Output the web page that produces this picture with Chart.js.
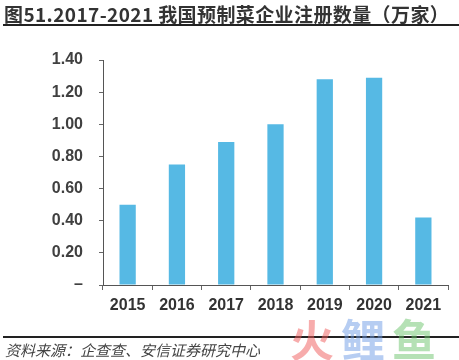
<!DOCTYPE html>
<html>
<head>
<meta charset="utf-8">
<script src="https://cdn.jsdelivr.net/npm/chart.js@4"></script>
<style>
  html, body { margin: 0; padding: 0; background: #fff; }
  #wrap { position: relative; width: 459px; height: 360px; overflow: hidden; }
  #title { position: absolute; left: 4px; top: 0px; font: bold 19px "Noto Sans CJK SC", sans-serif; color: #333; white-space: nowrap; letter-spacing: 0.4px; }
  .rule { position: absolute; left: 3px; width: 456px; height: 2px; background: #222; }
  #source { position: absolute; left: 5px; top: 339px; font: italic 15px "Noto Sans CJK SC", sans-serif; color: #444; white-space: nowrap; }
  #mark { position: absolute; left: 290px; top: 306px; font: bold 44px "Noto Sans CJK SC", sans-serif; opacity: 0.5; white-space: nowrap; letter-spacing: 7px; }
  canvas { position: absolute; left: 0; top: 0; }
</style>
</head>
<body>
<div id="wrap">
  <canvas id="chart" width="459" height="360"></canvas>
  <div id="title">图51.2017-2021 我国预制菜企业注册数量（万家）</div>
  <div class="rule" style="top:24px"></div>
  <div class="rule" style="top:336px"></div>
  <div id="mark"><span style="color:#f05a5a">火</span><span style="color:#6f9be6">鲤</span><span style="color:#6cc46c">鱼</span></div>
  <div id="source">资料来源：企查查、安信证券研究中心</div>
</div>
<script>
// data
const years = ["2015", "2016", "2017", "2018", "2019", "2020", "2021"];
const registrations = [0.50, 0.75, 0.89, 1.00, 1.28, 1.29, 0.42]; // 万家

const ctx = document.getElementById('chart').getContext('2d');

new Chart(ctx, {
    type: 'bar',
    data: {
        labels: years,
        datasets: [{
            data: registrations,
            backgroundColor: '#56B9E4',
            categoryPercentage: 0.33,
            barPercentage: 1.0
        }]
    },
    options: {
        responsive: false,
        animation: false,
        layout: { padding: { left: 0, top: 60, right: 11, bottom: 0 } },
        plugins: { legend: { display: false }, tooltip: { enabled: false } },
        scales: {
            y: {
                min: 0,
                max: 1.4,
                ticks: {
                    stepSize: 0.2,
                    padding: 16,
                    color: '#404040',
                    font: { family: 'Liberation Sans', size: 16, weight: 'bold' },
                    callback: v => v === 0 ? '–' : v.toFixed(2)
                },
                grid: { drawOnChartArea: false, drawTicks: true, tickLength: 4, color: '#666' },
                border: { color: '#555', width: 1 },
                afterFit: s => { s.width = 103; }
            },
            x: {
                ticks: {
                    padding: 6,
                    color: '#333',
                    font: { family: 'Liberation Sans', size: 16, weight: 'bold' }
                },
                grid: { drawOnChartArea: false, drawTicks: true, tickLength: 5, color: '#666' },
                border: { color: '#555', width: 1 },
                afterFit: s => { s.height = 75; }
            }
        }
    }
});
</script>
</body>
</html>
